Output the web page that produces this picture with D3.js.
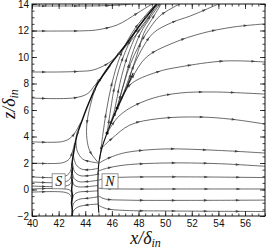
<!DOCTYPE html>
<html lang="en">
<head>
<meta charset="UTF-8">
<title>Streamlines x/δin, z/δin</title>
<script src="https://d3js.org/d3.v7.min.js"></script>
<style>
  body { margin: 0; background: #fff; }
  .stream { fill: none; stroke: #3a3a3a; stroke-width: 0.75px; }
  .thick { stroke: #111; stroke-width: 1.5px; }
  .tick-lbl { font: 10px "Liberation Sans", Arial, sans-serif; fill: #111; }
  .ttl { font-family: "Liberation Serif", "Times New Roman", serif; font-style: italic; fill: #111; }
</style>
</head>
<body>
<div id="chart"></div>
<script>
// canvas and plot box
const W = 273, H = 251;
const margin = { top: 4, right: 8, bottom: 35, left: 32 },
      width = W - margin.left - margin.right,
      height = H - margin.top - margin.bottom;

// tick values
const xTicks = [40, 42, 44, 46, 48, 50, 52, 54, 56];
const yTicks = [-2, 0, 2, 4, 6, 8, 10, 12, 14];

// upstream lines (coming from x = 40)
const up1 = [[40,13.85],[43,13.85],[45,13.86],[46.5,13.92],[47.4,14]];
const up2 = [[40,11.96],[42.1,11.96],[44.0,11.98],[44.9,12.05],[46.4,12.42],[47.9,13.3],[48.9,13.92],[49.1,14]];
const up3 = [[40,8.87],[42.1,8.87],[43.6,8.92],[44.6,9.02],[45.86,9.62],[47.14,10.9],[48.11,12.04],[48.8,13.0],[49.3,14]];
const up4 = [[40,6.9],[43.2,6.92],[44.2,7.25],[44.7,7.85],[45.2,8.4],[45.9,9.35]];
const up5 = [[40,3.6],[42.3,3.62],[42.9,3.9],[43.3,4.4],[43.65,5.05]];
const up6 = [[40,2.0],[42.3,2.02],[42.8,2.3],[43.05,2.9],[43.2,3.5]];
const up7 = [[40,0.95],[42.4,0.97],[42.85,1.3],[43.0,2.0]];
const up8 = [[40,0.57],[42.5,0.58],[42.88,0.85],[42.98,1.5]];
const up9 = [[40,0.26],[42.55,0.27],[42.9,0.45],[42.99,1.0]];
const up10 = [[40,0.04],[42.6,0.03],[42.92,-0.12],[43.0,-0.6]];
const up11 = [[40,-0.2],[42.5,-0.22],[42.9,-0.45],[43.0,-1.1]];

// separation line (through S) and attachment line (through N)
const sepLine = [[43.0,-2],[43.02,-1.5],[42.97,-1.0],[43.03,-0.5],[42.98,0],[43.02,0.5],[42.99,1.0],[43.03,1.5],[43.0,1.85],[43.08,2.5],[43.16,2.98],[43.38,4.11],[43.83,5.4],[44.36,6.75],[44.96,8.04],[45.86,9.4],[47.14,11.06],[48.11,12.42],[48.87,13.4],[49.39,14]];
const attLine = [[45.02,-1.75],[44.97,-1.0],[44.95,0],[44.96,1.0],[45.0,1.8],[45.1,2.5],[45.3,3.3],[45.64,4.26],[46.0,5.2],[46.39,6.15],[46.8,7.0],[47.14,7.74],[47.6,8.8]];

// lines between the two (from N towards S)
const mid0 = [[44.96,8.3],[44.5,6.8],[44.13,5.05],[44.13,3.77],[44.36,2.87],[44.96,2.04]];
const mid1 = [[44.96,2.0],[44.4,2.1],[43.8,2.3],[43.4,2.9],[43.3,3.6]];
const mid2 = [[44.96,1.6],[44.4,1.5],[43.7,1.55],[43.3,1.9],[43.1,2.6]];
const mid3 = [[44.96,1.15],[44.3,1.05],[43.6,1.05],[43.2,1.35],[43.05,2.0]];
const mid4 = [[44.96,0.7],[44.2,0.6],[43.5,0.6],[43.15,0.85],[43.02,1.4]];
const mid5 = [[44.96,0.3],[44.2,0.22],[43.5,0.2],[43.15,0.35],[43.02,0.8]];
const mid6 = [[44.96,-0.1],[44.2,-0.15],[43.5,-0.2],[43.15,-0.4],[43.02,-0.9]];
const mid7 = [[44.96,-0.55],[44.3,-0.65],[43.5,-0.75],[43.15,-1.0],[43.02,-1.5]];
const mid8 = [[44.98,-1.1],[44.3,-1.15],[43.5,-1.3],[43.15,-1.55],[43.02,-1.95]];

// lines leaving N to the right
const fan0 = [[45.0,-1.2],[45.6,-1.45],[47,-1.58],[50,-1.62],[57.5,-1.66]];
const fan1 = [[45.0,-0.5],[45.5,-0.72],[47,-0.8],[52,-0.82],[57.5,-0.8]];
const fan2 = [[45.0,0.1],[46,0.05],[52,0.04],[57.5,0.04]];
const fan3 = [[45.0,0.7],[45.5,0.85],[47,0.93],[52,0.95],[57.5,0.9]];
const fan4 = [[45.0,1.4],[45.6,1.6],[47,1.85],[50,2.0],[54,1.95],[57.5,1.75]];
const fan5 = [[45.05,2.0],[45.6,2.3],[46.5,2.65],[47.4,2.85],[50,3.06],[54,2.95],[57.5,2.75]];
const fan6 = [[45.3,3.2],[46.0,3.85],[47.36,4.87],[49.5,5.35],[52.6,5.47],[55,5.3],[57.5,4.94]];
const fan7 = [[45.64,4.26],[46.4,5.4],[47.36,6.15],[49.1,6.9],[51.1,7.28],[53.6,7.36],[57.5,7.2]];
const fan8 = [[45.9,4.9],[46.6,6.5],[47.36,7.9],[49.4,8.87],[51.1,9.25],[54.5,9.7],[57.5,9.62]];
const fan9 = [[46.2,5.6],[46.8,7.1],[47.5,8.4],[48.6,10.0],[50.6,11.06],[52.8,11.8],[55.1,12.26],[57.5,12.5]];
const fan10 = [[46.39,6.15],[47.0,7.6],[47.5,9.0],[48.2,10.5],[49.1,11.8],[50.5,12.6],[51.9,13.1],[54,14]];
const fan11 = [[46.39,6.15],[46.9,8.0],[47.4,9.5],[48.0,10.8],[48.6,11.8],[49.6,13.1],[51.1,14]];

// lines rising from N and closing onto the separation line
const rise1 = [[45.1,2.3],[45.3,4.0],[45.6,6.0],[46.0,8.0],[46.6,10.0],[47.5,11.8],[48.4,13.0],[49.3,14]];
const rise2 = [[45.64,4.26],[45.9,6.0],[46.25,8.0],[46.85,10.0],[47.7,11.8],[48.6,13.0],[49.4,14]];
const rise3 = [[45.64,4.26],[46.2,6.0],[46.6,8.0],[47.15,10.0],[47.9,11.8],[48.75,13.0],[49.5,14]];
const rise4 = [[46.39,6.15],[46.9,8.0],[47.45,10.0],[48.15,11.8],[48.9,13.0],[49.6,14]];
const rise5 = [[47.14,7.74],[47.5,9.0],[47.9,10.2],[48.4,11.8],[49.1,13.0],[49.7,14]];

const streams = [up1, up2, up3, up4, up5, up6, up7, up8, up9, up10, up11,
  mid0, mid1, mid2, mid3, mid4, mid5, mid6, mid7, mid8,
  fan0, fan1, fan2, fan3, fan4, fan5, fan6, fan7, fan8, fan9, fan10, fan11,
  rise1, rise2, rise3, rise4, rise5];

// node markers and labels
const nodeDots = [[45.64, 4.26], [46.39, 6.15]];
const labels = [{ t: "S", x: 42.0, z: 0.62, w: 13 }, { t: "N", x: 45.86, z: 0.62, w: 16 }];

const x = d3.scaleLinear().domain([40, 57.5]).range([0, width]);
const y = d3.scaleLinear().domain([-2, 14]).range([height, 0]);

const svg = d3.select("#chart").append("svg")
    .attr("width", W).attr("height", H)
  .append("g")
    .attr("transform", "translate(" + margin.left + "," + margin.top + ")");

svg.append("defs").append("clipPath").attr("id", "clip")
  .append("rect").attr("width", width).attr("height", height);

const plot = svg.append("g").attr("clip-path", "url(#clip)");

const line = d3.line()
    .x(d => x(d[0]))
    .y(d => y(d[1]))
    .curve(d3.curveCatmullRom.alpha(0.5));

// small arrowheads along a drawn path
function addArrows(node, start, step) {
  const L = node.getTotalLength();
  const pos = [];
  if (L < start + 8) pos.push(L / 2);
  else for (let d = start; d < L - 6; d += step) pos.push(d);
  pos.forEach(d => {
    const p = node.getPointAtLength(d);
    const q = node.getPointAtLength(Math.min(L, d + 1));
    const a = Math.atan2(q.y - p.y, q.x - p.x) * 180 / Math.PI;
    plot.append("path")
      .attr("d", "M2,0L-2,-1.3L-2,1.3Z")
      .attr("fill", "#444")
      .attr("transform", `translate(${p.x},${p.y}) rotate(${a})`);
  });
}

streams.forEach(s => {
  const p = plot.append("path").datum(s).attr("class", "stream").attr("d", line);
  addArrows(p.node(), 12, 32);
});

const sp = plot.append("path").datum(sepLine).attr("class", "stream thick").attr("d", line);
addArrows(sp.node(), 40, 45);
const ap = plot.append("path").datum(attLine).attr("class", "stream thick")
    .style("stroke-width", "1.1px").attr("d", line);
addArrows(ap.node(), 40, 45);

plot.selectAll(".dot").data(nodeDots).enter().append("circle")
    .attr("cx", d => x(d[0])).attr("cy", d => y(d[1]))
    .attr("r", 1.6).attr("fill", "#111");

// S and N boxes
const lab = svg.selectAll(".lab").data(labels).enter().append("g")
    .attr("transform", d => `translate(${x(d.x)},${y(d.z)})`);
lab.append("rect")
    .attr("x", d => -d.w / 2).attr("y", -7.5)
    .attr("width", d => d.w).attr("height", 15)
    .attr("fill", "#fff").attr("stroke", "#777").attr("stroke-width", 0.8);
lab.append("text")
    .attr("class", "ttl").attr("text-anchor", "middle")
    .attr("y", 5).style("font-size", "14px")
    .text(d => d.t);

// axes, ticks pointing inwards on all four sides
const xMinor = d3.range(40, 57.51, 0.5);
const yMinor = d3.range(-2, 14.01, 0.5);

function ticks(axis, values, size, fmt) {
  return axis.tickValues(values).tickSize(size).tickSizeOuter(0).tickFormat(fmt);
}
const none = () => "";

svg.append("g").attr("transform", "translate(0," + height + ")")
   .call(ticks(d3.axisBottom(x), xMinor, -2.5, none));
svg.append("g").attr("transform", "translate(0," + height + ")")
   .call(ticks(d3.axisBottom(x), xTicks, -5, d3.format("d")))
   .call(g => g.selectAll("text").attr("class", "tick-lbl").attr("dy", "0.9em").attr("y", 2));
svg.append("g")
   .call(ticks(d3.axisTop(x), xMinor, -2.5, none));
svg.append("g")
   .call(ticks(d3.axisTop(x), xTicks, -5, none));

svg.append("g").call(ticks(d3.axisLeft(y), yMinor, -2.5, none));
svg.append("g").call(ticks(d3.axisLeft(y), yTicks, -5, d3.format("d")))
   .call(g => g.selectAll("text").attr("class", "tick-lbl").attr("x", -3));
svg.append("g").attr("transform", "translate(" + width + ",0)")
   .call(ticks(d3.axisRight(y), yMinor, -2.5, none));
svg.append("g").attr("transform", "translate(" + width + ",0)")
   .call(ticks(d3.axisRight(y), yTicks, -5, none));

svg.selectAll(".domain").remove();
svg.selectAll(".tick line").attr("stroke", "#111").attr("stroke-width", 0.8);

svg.append("rect")
    .attr("width", width).attr("height", height)
    .attr("fill", "none").attr("stroke", "#111").attr("stroke-width", 1);

// axis titles
const xt = svg.append("text").attr("class", "ttl")
    .attr("x", width / 2 - 3).attr("y", height + 28)
    .attr("text-anchor", "middle").style("font-size", "18px");
xt.append("tspan").text("x/δ");
xt.append("tspan").attr("dy", 3).style("font-size", "12px").text("in");

const yt = svg.append("text").attr("class", "ttl")
    .attr("transform", "translate(" + (-17) + "," + (height / 2 - 6) + ") rotate(-90)")
    .attr("text-anchor", "middle").style("font-size", "18px");
yt.append("tspan").text("z/δ");
yt.append("tspan").attr("dy", 3).style("font-size", "12px").text("in");
</script>
</body>
</html>
